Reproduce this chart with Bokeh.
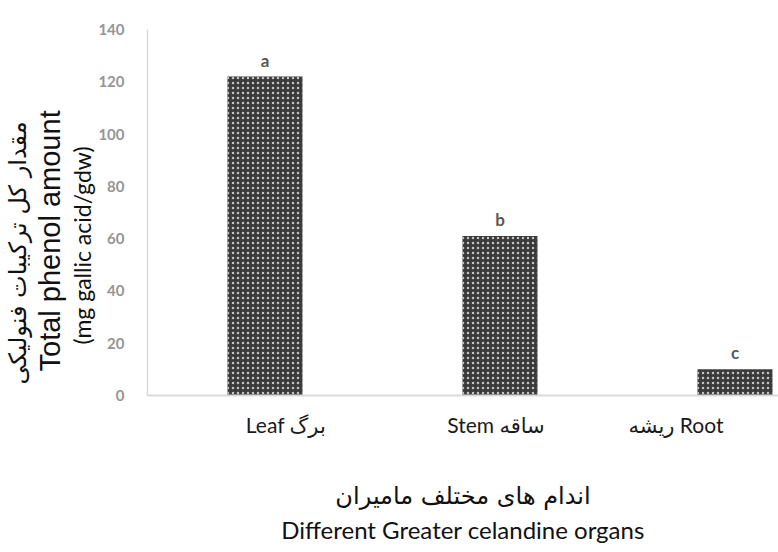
from bokeh.plotting import figure
from bokeh.models import (ColumnDataSource, LabelSet, FixedTicker, Range1d, Title)
from bokeh.core.properties import value
from bokeh.embed import file_html
from bokeh.resources import INLINE

# ---- data ----
organs_en = ["Leaf", "Stem", "Root"]
organs_fa = ["برگ", "ساقه", "ریشه"]
category_labels = ["Leaf برگ", "Stem ساقه", "ریشه Root"]
phenol = [122, 61, 10]
letters = ["a", "b", "c"]
y_ticks = [0, 20, 40, 60, 80, 100, 120, 140]

y_title_fa = "مقدار کل ترکیبات فنولیکی"
y_title_en = "Total phenol  amount"
y_title_unit = "(mg gallic acid/gdw)"
x_title_fa = "اندام های مختلف ماميران"
x_title_en = "Different Greater celandine organs"

# ---- styling / layout (not data) ----
BAND_PX = 235.0
label_dx_px = [21, -4, -59]

xpos = [i + 0.5 for i in range(len(organs_en))]
label_pos = [x + d / BAND_PX for x, d in zip(xpos, label_dx_px)]

src = ColumnDataSource(dict(x=xpos, top=phenol, letter=letters))

p = figure(width=778, height=552, output_backend="svg", toolbar_location=None,
           x_range=Range1d(0, 631 / BAND_PX), y_range=Range1d(0, 140),
           min_border_left=147, min_border_right=0, min_border_top=29,
           min_border_bottom=157)
p.outline_line_color = None
p.xgrid.visible = False
p.ygrid.visible = False

p.vbar(x="x", top="top", width=75 / BAND_PX, bottom=0, source=src,
       fill_color="#3a3a3a", line_color=None,
       hatch_pattern="dot", hatch_color="#c4c4c4", hatch_scale=5, hatch_weight=3.2)

# y axis
p.yaxis.ticker = FixedTicker(ticks=y_ticks)
p.yaxis.axis_line_color = "#d9d9d9"
p.yaxis.axis_line_width = 1.5
p.yaxis.major_tick_line_color = None
p.yaxis.minor_tick_line_color = None
p.yaxis.major_label_text_color = "#959595"
p.yaxis.major_label_text_font = "Lato"
p.yaxis.major_label_text_font_style = "bold"
p.yaxis.major_label_text_font_size = "15px"
p.yaxis.major_label_standoff = 17

# x axis with category labels; Persian title line as the axis label
p.xaxis.ticker = FixedTicker(ticks=label_pos)
p.xaxis.major_label_overrides = {t: s for t, s in zip(label_pos, category_labels)}
p.xaxis.axis_line_color = "#d9d9d9"
p.xaxis.axis_line_width = 2
p.xaxis.major_tick_line_color = None
p.xaxis.minor_tick_line_color = None
p.xaxis.major_label_standoff = 10
p.xaxis.major_label_text_font = "Lato, 'DejaVu Sans'"
p.xaxis.major_label_text_font_size = "21px"
p.xaxis.major_label_text_color = "#1a1a1a"
p.xaxis.axis_label = x_title_fa
p.xaxis.axis_label_text_font = "DejaVu Sans"
p.xaxis.axis_label_text_font_style = "normal"
p.xaxis.axis_label_text_font_size = "24px"
p.xaxis.axis_label_text_color = "#111111"
p.xaxis.axis_label_standoff = 42

# significance letters
p.add_layout(LabelSet(x="x", y="top", text="letter", source=src,
                      y_offset=10, text_align="center", text_baseline="alphabetic",
                      text_font=value("Lato"), text_font_style="bold",
                      text_font_size="17px", text_color="#595959"))

# y title: three rotated lines (inner to outer), starting from the frame bottom
p.add_layout(Title(text=y_title_unit, align="left", offset=51, standoff=0,
                   text_font="Lato", text_font_style="normal",
                   text_font_size="23px", text_color="#111111"), "left")
p.add_layout(Title(text=y_title_en, align="left", offset=24, standoff=0,
                   text_font="Liberation Sans", text_font_style="normal",
                   text_font_size="29px", text_color="#111111"), "left")
p.add_layout(Title(text=y_title_fa, align="left", offset=11, standoff=0,
                   text_font="DejaVu Sans", text_font_style="normal",
                   text_font_size="24px", text_color="#111111"), "left")

# x title: English line
p.add_layout(Title(text=x_title_en, align="center", offset=-8, standoff=0,
                   text_font="Lato", text_font_style="normal",
                   text_font_size="24px", text_color="#111111"), "below")

open("out.html", "w").write(file_html(p, INLINE))
